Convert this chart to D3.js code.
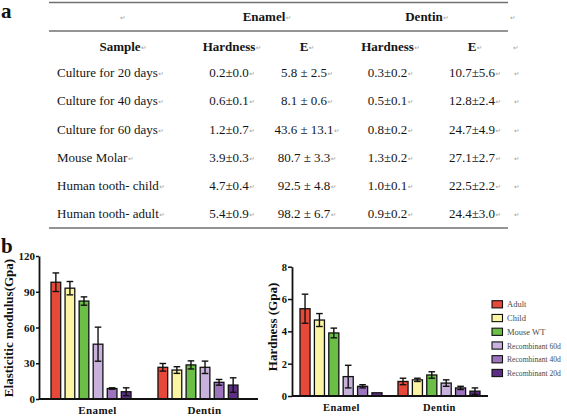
<!DOCTYPE html>
<html><head><meta charset="utf-8">
<script src="https://cdn.jsdelivr.net/npm/d3@7"></script>
<style>body{margin:0;background:#fff}svg{display:block}text{white-space:pre}
.serif{font-family:"Liberation Serif","Tinos","Times New Roman",Times,"DejaVu Serif",serif}</style>
</head><body>
<svg id="c" width="567" height="419"></svg>
<script>
// ---- table data ----
const tableSamples = ["Culture for 20 days","Culture for 40 days","Culture for 60 days","Mouse Molar","Human tooth- child","Human tooth- adult"];
const tableEnamelHardness = ["0.2±0.0","0.6±0.1","1.2±0.7","3.9±0.3","4.7±0.4","5.4±0.9"];
const tableEnamelE = ["5.8 ± 2.5","8.1 ± 0.6","43.6 ± 13.1","80.7 ± 3.3","92.5 ± 4.8","98.2 ± 6.7"];
const tableDentinHardness = ["0.3±0.2","0.5±0.1","0.8±0.2","1.3±0.2","1.0±0.1","0.9±0.2"];
const tableDentinE = ["10.7±5.6","12.8±2.4","24.7±4.9","27.1±2.7","22.5±2.2","24.4±3.0"];
const tableGroupHeaders = ["Enamel","Dentin"];
const tableColHeaders = ["Sample","Hardness","E","Hardness","E"];

// ---- chart data ----
const groups = ["Enamel","Dentin"];
const series = ["Adult","Child","Mouse WT","Recombinant 60d","Recombinant 40d","Recombinant 20d"];
const seriesColors = ["#e6483a","#fbf4a2","#6cbf46","#c8b1dd","#9b74bd","#5c2e84"];
const modulusEnamel = [98, 93, 82.2, 46, 8.8, 6.1];
const modulusEnamelErr = [7.8, 5.6, 3.5, 14.3, 0.6, 3.3];
const modulusDentin = [26.6, 24.3, 28.6, 26.6, 14, 11.7];
const modulusDentinErr = [3.2, 2.8, 3.4, 5.2, 2.4, 6.1];
const hardnessEnamel = [5.4, 4.7, 3.9, 1.2, 0.6, 0.2];
const hardnessEnamelErr = [0.9, 0.4, 0.3, 0.7, 0.1, 0.0];
const hardnessDentin = [0.9, 1.0, 1.3, 0.8, 0.5, 0.3];
const hardnessDentinErr = [0.2, 0.1, 0.2, 0.2, 0.1, 0.2];
const modulusTicks = [0, 30, 60, 90, 120];
const hardnessTicks = [0, 2, 4, 6, 8];

const svg = d3.select("#c");
function T(sel) { return sel.attr("class", "serif"); }

// ---- panel letters ----
T(svg.append("text")).attr("x", 1).attr("y", 18).text("a")
  .attr("font-weight", "bold").attr("font-size", 21).attr("fill", "#111");
T(svg.append("text")).attr("x", 1).attr("y", 253).text("b")
  .attr("font-weight", "bold").attr("font-size", 21).attr("fill", "#111");

// ---- table ----
const tbl = svg.append("g");
const ruleColor = "#707070";
[2.5, 31, 228].forEach(y => tbl.append("line").attr("x1", 49).attr("x2", 508).attr("y1", y).attr("y2", y)
  .attr("stroke", ruleColor).attr("stroke-width", 1.7));

function mark(x, y) {
  tbl.append("text").attr("x", x).attr("y", y).text("\u21B5")
    .attr("font-family", "DejaVu Sans").attr("font-size", 6.5).attr("fill", "#9a9a9a");
}
function cell(txt, x, y, anchor, bold) {
  const t = T(tbl.append("text")).attr("x", x).attr("y", y).text(txt)
    .attr("text-anchor", anchor).attr("font-size", 13)
    .attr("font-weight", bold ? "bold" : "normal").attr("fill", "#151515");
  const w = t.node().getComputedTextLength();
  const right = anchor === "middle" ? x + w / 2 : x + w;
  mark(right + 0.5, y - 1);
}
mark(120, 20);
const groupCx = [264, 424];
tableGroupHeaders.forEach((g, i) => cell(g, groupCx[i], 21, "middle", true));
mark(510, 20);
const colCx = [120, 229, 304, 387.5, 472];
tableColHeaders.forEach((h, i) => cell(h, colCx[i], 51, "middle", true));
mark(513, 50);
const rowY = d3.scaleLinear().domain([0, tableSamples.length - 1]).range([77.2, 218]);
tableSamples.forEach((s, i) => {
  const y = rowY(i);
  cell(s, 57, y, "start", false);
  cell(tableEnamelHardness[i], colCx[1], y, "middle", false);
  cell(tableEnamelE[i], colCx[2], y, "middle", false);
  cell(tableDentinHardness[i], colCx[3], y, "middle", false);
  cell(tableDentinE[i], colCx[4], y, "middle", false);
  mark(514, y - 1);
});

// ---- bar charts ----
function drawChart(o) {
  const g = svg.append("g");
  const y = d3.scaleLinear().domain(o.domain).range([o.y0, o.y1]);
  const xG = d3.scaleBand().domain(groups).range(o.clusterRange).paddingInner(o.groupPad);
  const xS = d3.scaleBand().domain(series).range([0, xG.bandwidth()]).paddingInner(o.barPad);
  groups.forEach((grp, gi) => {
    series.forEach((s, si) => {
      const v = o.values[gi][si], e = o.errors[gi][si];
      const x = xG(grp) + xS(s);
      g.append("rect").attr("x", x).attr("y", y(v)).attr("width", xS.bandwidth()).attr("height", y(0) - y(v))
        .attr("fill", seriesColors[si]).attr("stroke", "#111").attr("stroke-width", 1.3);
      if (e > 0) {
        const cx = x + xS.bandwidth() / 2, cw = 3.3;
        g.append("line").attr("x1", cx).attr("x2", cx).attr("y1", y(v + e)).attr("y2", y(v - e))
          .attr("stroke", "#111").attr("stroke-width", 1.4);
        [v + e, v - e].forEach(yy => g.append("line").attr("x1", cx - cw).attr("x2", cx + cw)
          .attr("y1", y(yy)).attr("y2", y(yy)).attr("stroke", "#111").attr("stroke-width", 1.4));
      }
    });
  });
  const ya = d3.axisLeft(y).tickValues(o.ticks).tickSize(o.tickSize).tickPadding(1).tickSizeOuter(0);
  const yg = g.append("g").attr("transform", `translate(${o.x0},0)`).call(ya);
  yg.attr("font-family", null).attr("font-size", null);
  yg.select(".domain").attr("stroke", "#111").attr("stroke-width", 1.8);
  yg.selectAll(".tick line").attr("stroke", "#111").attr("stroke-width", 1.5);
  T(yg.selectAll(".tick text")).attr("font-weight", "bold")
    .attr("font-size", o.tickFont).attr("fill", "#111");
  g.append("line").attr("x1", o.x0).attr("x2", o.x1).attr("y1", y(0)).attr("y2", y(0))
    .attr("stroke", "#111").attr("stroke-width", 1.8);
  groups.forEach(grp => {
    T(g.append("text")).attr("x", xG(grp) + xG.bandwidth() / 2 + o.labelShift).attr("y", o.labelY)
      .attr("text-anchor", "middle").text(grp).attr("font-weight", "bold")
      .attr("font-size", o.labelFont).attr("letter-spacing", 0.4).attr("fill", "#111");
  });
  T(g.append("text")).attr("transform", `translate(${o.titleX},${o.titleY}) rotate(-90)`)
    .attr("text-anchor", "middle").text(o.title).attr("font-weight", "bold")
    .attr("font-size", 13).attr("fill", "#111");
}

drawChart({
  domain: [0, 120], y0: 399, y1: 256, x0: 39, x1: 258,
  clusterRange: [51, 238], groupPad: 0.252, barPad: 0.31,
  values: [modulusEnamel, modulusDentin], errors: [modulusEnamelErr, modulusDentinErr],
  ticks: modulusTicks, tickSize: 3, tickFont: 11, labelShift: 6.5, labelY: 414, labelFont: 11,
  title: "Elasticitic modulus(Gpa)", titleX: 13, titleY: 328
});
drawChart({
  domain: [0, 8], y0: 396, y1: 266.7, x0: 292, x1: 488,
  clusterRange: [300, 480], groupPad: 0.163, barPad: 0.3,
  values: [hardnessEnamel, hardnessDentin], errors: [hardnessEnamelErr, hardnessDentinErr],
  ticks: hardnessTicks, tickSize: 4, tickFont: 10.5, labelShift: 0.5, labelY: 410.5, labelFont: 10.5,
  title: "Hardness (Gpa)", titleX: 277, titleY: 327
});

// ---- legend ----
const leg = svg.append("g");
const legY = d3.scalePoint().domain(series).range([304.3, 373]);
series.forEach((s, i) => {
  leg.append("rect").attr("x", 492).attr("y", legY(s) - 3.6).attr("width", 10.5).attr("height", 7.2)
    .attr("fill", seriesColors[i]).attr("stroke", "#111").attr("stroke-width", 1.1);
  const t = T(leg.append("text")).attr("x", 507).attr("y", legY(s) + 3).text(s)
    .attr("font-size", 8.5).attr("fill", "#4a4a4a");
  const w = t.node().getComputedTextLength();
  if (w > 54) t.attr("font-size", 8.5 * 54 / w);
});
</script>
</body></html>
